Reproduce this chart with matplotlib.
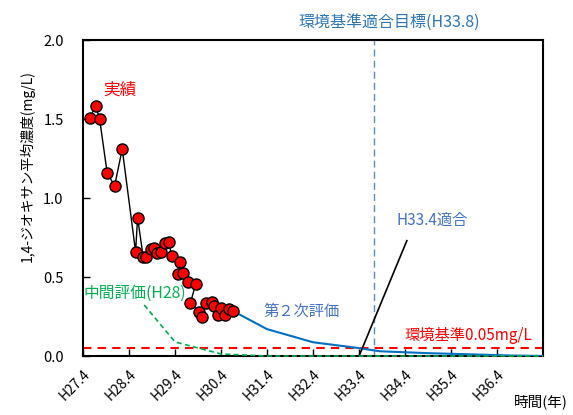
import numpy as np
import matplotlib
matplotlib.use("Agg")
import matplotlib.pyplot as plt

plt.rcParams['font.family'] = ['Noto Sans CJK JP', 'DejaVu Sans']

# years since H27.4
obs_x = [0.145, 0.275, 0.362, 0.527, 0.688, 0.853, 1.143, 1.187, 1.308, 1.360,
         1.469, 1.540, 1.599, 1.685, 1.779, 1.866, 1.924, 2.119, 2.067, 2.176,
         2.284, 2.451, 2.336, 2.516, 2.597, 2.683, 2.805, 2.848, 2.935, 3.009,
         3.095, 3.174, 3.260]
obs_y = [1.504, 1.584, 1.498, 1.156, 1.078, 1.310, 0.660, 0.875, 0.628, 0.625,
         0.677, 0.682, 0.654, 0.660, 0.713, 0.720, 0.635, 0.593, 0.519, 0.523,
         0.470, 0.456, 0.337, 0.280, 0.245, 0.334, 0.344, 0.316, 0.259, 0.306,
         0.259, 0.296, 0.285]

second_x = [3.26, 4.0, 5.0, 6.0, 6.45, 7.5, 8.5, 9.3, 10.0]
second_y = [0.285, 0.17, 0.087, 0.050, 0.030, 0.018, 0.010, 0.003, 0.0]

mid_x = [1.33, 2.0, 3.0, 4.0, 10.0]
mid_y = [0.323, 0.089, 0.013, 0.0, 0.0]

standard = 0.05
target_x = 6.33
tick_labels = ['H27.4', 'H28.4', 'H29.4', 'H30.4', 'H31.4',
               'H32.4', 'H33.4', 'H34.4', 'H35.4', 'H36.4']

fig = plt.figure(figsize=(5.73, 4.15), dpi=100)
ax = fig.add_axes([83/573, 1-356/415, 460/573, 316/415])

ax.axhline(standard, color='#FF0000', lw=1.5, ls=(0, (4, 3)), zorder=2)
ax.axvline(target_x, color='#5B8BC0', lw=1, ls=(0, (5, 3)), zorder=2)

ax.plot(second_x, second_y, color='#0070C0', lw=1.5, zorder=3)
ax.plot(mid_x, mid_y, color='#00B050', lw=1.2, ls=(0, (3, 2)), zorder=6, clip_on=False)

ax.plot(obs_x, obs_y, color='black', lw=1, zorder=4)
ax.plot(obs_x, obs_y, 'o', ms=8, mfc='#FF0000', mec='black', mew=1, zorder=5)

ax.plot([6.01, 7.04], [0.006, 0.73], color='black', lw=1.2, zorder=4)

ax.text(0.80, 1.68, '実績', color='#FF0000', fontsize=12, ha='center', va='center')
ax.text(0.02, 0.396, '中間評価(H28)', color='#00B050', fontsize=11.3, ha='left', va='center')
ax.text(4.75, 0.285, '第２次評価', color='#4472C4', fontsize=11, ha='center', va='center')
ax.text(6.98, 0.127, '環境基準0.05mg/L', color='#FF0000', fontsize=11, ha='left', va='center')
ax.text(6.81, 0.86, 'H33.4適合', color='#4472C4', fontsize=11, ha='left', va='center')
ax.text(6.65, 2.11, '環境基準適合目標(H33.8)', color='#2E75B6', fontsize=11.5,
        ha='center', va='center', clip_on=False)

ax.set_xlim(0, 10)
ax.set_ylim(0, 2.0)
ax.set_xticks(range(len(tick_labels)))
ax.set_xticklabels(tick_labels, rotation=45, ha='right', rotation_mode='anchor', fontsize=10)
ax.set_yticks([0, 0.5, 1.0, 1.5, 2.0])
ax.set_yticklabels(['%.1f' % v for v in [0, 0.5, 1.0, 1.5, 2.0]], fontsize=10.5)
ax.tick_params(direction='in', length=5, width=1)
ax.tick_params(axis='x', pad=8)
ax.tick_params(axis='y', pad=14)
for s in ax.spines.values():
    s.set_linewidth(1.5)

ax.set_ylabel('1,4-ジオキサン平均濃度(mg/L)', fontsize=10)
ax.yaxis.set_label_coords(-0.105, 0.60)
fig.text(541/573, 1-402/415, '時間(年)', fontsize=10.5, ha='center', va='center')

fig.savefig('out.png', dpi=100)
